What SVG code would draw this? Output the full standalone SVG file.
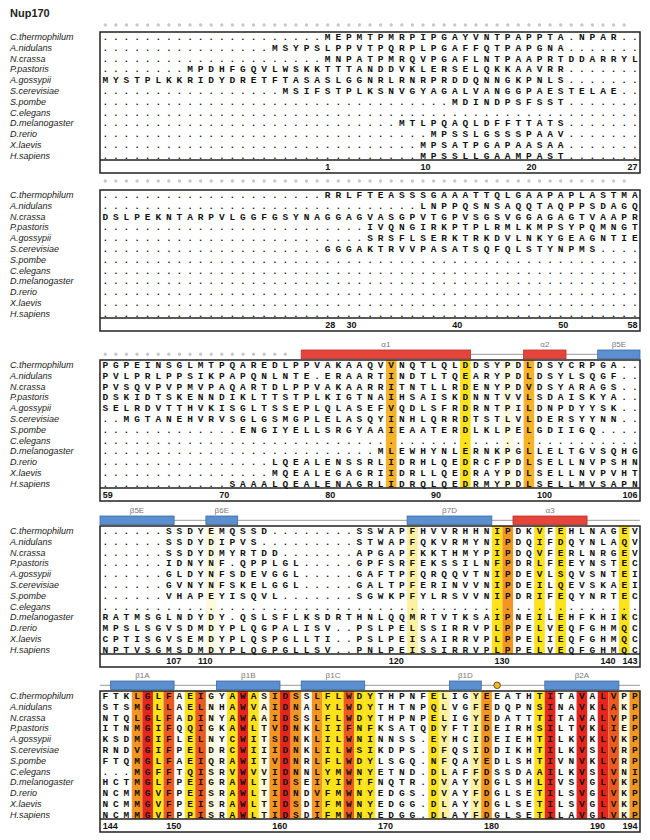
<svg xmlns="http://www.w3.org/2000/svg" width="650" height="840" viewBox="0 0 650 840">
<style>
text{font-family:"Liberation Sans",Arial,sans-serif}
.s{font-family:"Liberation Mono","Courier New",monospace;font-weight:bold;font-size:9.5px;letter-spacing:4.89px;fill:#111}
.n{font-style:italic;font-size:9px;fill:#1a1a1a}
.u{font-family:"Liberation Mono",monospace;font-weight:bold;font-size:9px;fill:#111}
.e{text-anchor:end}
.l{font-size:8px;fill:#777;text-anchor:middle}
.bx{fill:none;stroke:#222;stroke-width:1.5}
.sp{stroke:#222;stroke-width:1.5}
.gd{stroke:#c8c8c8;stroke-width:3.4;stroke-linecap:round;stroke-dasharray:0 10.59;fill:none}
.ln{stroke:#999;stroke-width:1}
.a{fill:#e5453b;stroke:#b8302a;stroke-width:.8}
.b{fill:#5b8fcf;stroke:#3a6aa6;stroke-width:.8}
.r{fill:#e5261f}.ro{fill:#ec5a22}.o{fill:#f39523}.og{fill:#f6b228}.y{fill:#ffe31a}.ly{fill:#fff1a0}.c{fill:#fffadc}
</style>
<rect width="650" height="840" fill="#fff"/>
<text x="10" y="17" font-weight="bold" font-size="11" fill="#222">Nup170</text>

<g id="block1">
<line class="gd" x1="105.3" y1="25" x2="634.8" y2="25"/>
<rect class="bx" x="100" y="32" width="540" height="141"/>
<line class="sp" x1="100" y1="160" x2="640" y2="160"/>
<g class="n">
<text x="10" y="40.2">C.thermophilum</text><text x="10" y="50.96">A.nidulans</text><text x="10" y="61.72">N.crassa</text><text x="10" y="72.48">P.pastoris</text><text x="10" y="83.24">A.gossypii</text><text x="10" y="94">S.cerevisiae</text><text x="10" y="104.76">S.pombe</text><text x="10" y="115.52">C.elegans</text><text x="10" y="126.28">D.melanogaster</text><text x="10" y="137.04">D.rerio</text><text x="10" y="147.8">X.laevis</text><text x="10" y="158.56">H.sapiens</text>
</g>
<text class="s" y="40.2"><tspan x="102.45">.....................</tspan><tspan x="324.84">MEPMTPMRPIPGAYVNTPAPPTA.NPAR..</tspan></text>
<text class="s" y="50.96"><tspan x="102.45">................</tspan><tspan x="271.89">MSYPS</tspan><tspan x="324.84">LPPVTPQRPLPGAFFQTPAPGNA.......</tspan></text>
<text class="s" y="61.72"><tspan x="102.45">.....................</tspan><tspan x="324.84">MNPATPMRQVPGAFLNTPAAPRTDDARRYL</tspan></text>
<text class="s" y="72.48"><tspan x="102.45">........</tspan><tspan x="187.17">MPDHFGQVLWSKK</tspan><tspan x="324.84">TTTANDDVKLERSELQKKAAVRR.......</tspan></text>
<text class="s" y="83.24"><tspan x="102.45">MYSTPLKKRIDYDRETFTASA</tspan><tspan x="324.84">SLGGNRLRNRPRDDQNNGKPNLS.......</tspan></text>
<text class="s" y="94"><tspan x="102.45">.................</tspan><tspan x="282.48">MSIF</tspan><tspan x="324.84">STPLKSNVGYAGALVANGGPAESTELAE..</tspan></text>
<text class="s" y="104.76"><tspan x="102.45">.....................</tspan><tspan x="324.84">............</tspan><tspan x="451.92">MDINDPSFSST.......</tspan></text>
<text class="s" y="115.52"><tspan x="102.45">.....................</tspan><tspan x="324.84">..............................</tspan></text>
<text class="s" y="126.28"><tspan x="102.45">.....................</tspan><tspan x="324.84">.......</tspan><tspan x="398.97">MTLPQAQLDFFTTATS.......</tspan></text>
<text class="s" y="137.04"><tspan x="102.45">.....................</tspan><tspan x="324.84">..........</tspan><tspan x="430.74">MPSSLGSSSPAAV.......</tspan></text>
<text class="s" y="147.8"><tspan x="102.45">.....................</tspan><tspan x="324.84">.........</tspan><tspan x="420.15">MPSATPGAPAASAA.......</tspan></text>
<text class="s" y="158.56"><tspan x="102.45">.....................</tspan><tspan x="324.84">.........</tspan><tspan x="420.15">MPSSLLGAAMPAST.......</tspan></text>
<g class="u"><text x="325.2" y="170">1</text><text x="420.5" y="170">10</text><text x="526.4" y="170">20</text><text class="e" x="637.5" y="170">27</text></g>
</g>

<g id="block2">
<line class="gd" x1="105.3" y1="181" x2="634.8" y2="181"/>
<rect class="bx" x="100" y="190" width="540" height="141"/>
<line class="sp" x1="100" y1="318" x2="640" y2="318"/>
<g class="n">
<text x="10" y="198.2">C.thermophilum</text><text x="10" y="208.96">A.nidulans</text><text x="10" y="219.72">N.crassa</text><text x="10" y="230.48">P.pastoris</text><text x="10" y="241.24">A.gossypii</text><text x="10" y="252">S.cerevisiae</text><text x="10" y="262.76">S.pombe</text><text x="10" y="273.52">C.elegans</text><text x="10" y="284.28">D.melanogaster</text><text x="10" y="295.04">D.rerio</text><text x="10" y="305.8">X.laevis</text><text x="10" y="316.56">H.sapiens</text>
</g>
<text class="s" y="198.2"><tspan x="102.45">.....................</tspan><tspan x="324.84">RRLFTEASSSGAAATTQLGAAPAPLASTMA</tspan></text>
<text class="s" y="208.96"><tspan x="102.45">.....................</tspan><tspan x="324.84">.........</tspan><tspan x="420.15">LNPPQSNSAQQTAQPPSDAGQ</tspan></text>
<text class="s" y="219.72"><tspan x="102.45">DSLPEKNTARPVLGGFGSYNA</tspan><tspan x="324.84">GGAGVASGPVTGPVSGSVGGAGAGTVAAPR</tspan></text>
<text class="s" y="230.48"><tspan x="102.45">.....................</tspan><tspan x="324.84">....</tspan><tspan x="367.2">IVQNGIRKPTPLRMLKMPSYPQMNGT</tspan></text>
<text class="s" y="241.24"><tspan x="102.45">.....................</tspan><tspan x="324.84">....</tspan><tspan x="367.2">SRSFLSERKTRKDVLNKYGEAGNTIE</tspan></text>
<text class="s" y="252"><tspan x="102.45">.....................</tspan><tspan x="324.84">GGGAKTRVVPASATSQFQLSTYNPMS....</tspan></text>
<text class="s" y="262.76"><tspan x="102.45">.....................</tspan><tspan x="324.84">..............................</tspan></text>
<text class="s" y="273.52"><tspan x="102.45">.....................</tspan><tspan x="324.84">..............................</tspan></text>
<text class="s" y="284.28"><tspan x="102.45">.....................</tspan><tspan x="324.84">..............................</tspan></text>
<text class="s" y="295.04"><tspan x="102.45">.....................</tspan><tspan x="324.84">..............................</tspan></text>
<text class="s" y="305.8"><tspan x="102.45">.....................</tspan><tspan x="324.84">..............................</tspan></text>
<text class="s" y="316.56"><tspan x="102.45">.....................</tspan><tspan x="324.84">..............................</tspan></text>
<g class="u"><text x="325.2" y="328">28</text><text x="346.4" y="328">30</text><text x="452.3" y="328">40</text><text x="558.2" y="328">50</text><text class="e" x="637.5" y="328">58</text></g>
</g>

<g id="block3">
<line class="gd" x1="105.3" y1="354.3" x2="295.9" y2="354.3"/>
<line class="ln" x1="470.6" y1="354.3" x2="523.6" y2="354.3"/>
<line class="ln" x1="566" y1="354.3" x2="597.7" y2="354.3"/>
<rect class="a" x="301.2" y="350" width="169.4" height="8.6"/>
<rect class="a" x="523.6" y="350" width="42.4" height="8.6"/>
<rect class="b" x="597.7" y="350" width="42.3" height="8.6"/>
<text class="l" x="385.9" y="347">α1</text><text class="l" x="544.8" y="347">α2</text><text class="l" x="618.9" y="347">β5E</text>
<rect class="og" x="385.93" y="360" width="10.62" height="128"/>
<rect class="y" x="460.06" y="360" width="10.62" height="128"/>
<rect class="c" x="502.42" y="360" width="10.62" height="128"/>
<rect class="og" x="523.6" y="360" width="10.62" height="128"/>
<rect class="bx" x="100" y="360" width="540" height="141"/>
<line class="sp" x1="100" y1="488" x2="640" y2="488"/>
<g class="n">
<text x="10" y="368.2">C.thermophilum</text><text x="10" y="378.96">A.nidulans</text><text x="10" y="389.72">N.crassa</text><text x="10" y="400.48">P.pastoris</text><text x="10" y="411.24">A.gossypii</text><text x="10" y="422">S.cerevisiae</text><text x="10" y="432.76">S.pombe</text><text x="10" y="443.52">C.elegans</text><text x="10" y="454.28">D.melanogaster</text><text x="10" y="465.04">D.rerio</text><text x="10" y="475.8">X.laevis</text><text x="10" y="486.56">H.sapiens</text>
</g>
<text class="s" y="368.2"><tspan x="102.45">PGPEINSGLMTPQAREDLPPV</tspan><tspan x="324.84">AKAAQVVNQTLQLDDSYPDLDSYCRPGA..</tspan></text>
<text class="s" y="378.96"><tspan x="102.45">PVLPRLPPSIKPAPQNLNTE.</tspan><tspan x="324.84">ERAARTINDTLTQEARYPDLDSYLSQGF..</tspan></text>
<text class="s" y="389.72"><tspan x="102.45">PVSQVPVPMVPAQARTDLPPV</tspan><tspan x="324.84">AKAARRITNTLLRDENYPDVDSYARAGS..</tspan></text>
<text class="s" y="400.48"><tspan x="102.45">DSKIDTSKENNDIKLTTSTPL</tspan><tspan x="324.84">KIGTNAIHSAISKDNNTVVLSDAISKYA..</tspan></text>
<text class="s" y="411.24"><tspan x="102.45">SELRDVTTHVKISGLTSSEPL</tspan><tspan x="324.84">QLASEFVQDLSFRDRNTPILDNPDYYSK..</tspan></text>
<text class="s" y="422"><tspan x="102.45">..MGTANEHVRVSGLGSMGPL</tspan><tspan x="324.84">ELASQYINHLQRRDTSTLVLDERSYYNN..</tspan></text>
<text class="s" y="432.76"><tspan x="102.45">.............</tspan><tspan x="240.12">ENGIYELL</tspan><tspan x="324.84">SRGYAAIEAATERDLKLPELGDIIGQ....</tspan></text>
<text class="s" y="443.52"><tspan x="102.45">.....................</tspan><tspan x="324.84">..............................</tspan></text>
<text class="s" y="454.28"><tspan x="102.45">.....................</tspan><tspan x="324.84">.....</tspan><tspan x="377.79">MLEWHYNLERNKPGLLELTGVSQHG</tspan></text>
<text class="s" y="465.04"><tspan x="102.45">................</tspan><tspan x="271.89">LQEAL</tspan><tspan x="324.84">ENSSRLIDRHLQEDRCFPDLSELLNVPSHN</tspan></text>
<text class="s" y="475.8"><tspan x="102.45">................</tspan><tspan x="271.89">MQEAL</tspan><tspan x="324.84">EGAGRIIDRLLQEDRAYPDLSELLNVPVHT</tspan></text>
<text class="s" y="486.56"><tspan x="102.45">............</tspan><tspan x="229.53">SAAALQEAL</tspan><tspan x="324.84">ENAGRLIDRQLQEDRMYPDLSELLMVSAPN</tspan></text>
<g class="u"><text x="102.8" y="498">59</text><text x="219.3" y="498">70</text><text x="325.2" y="498">80</text><text x="431.1" y="498">90</text><text x="537" y="498">100</text><text class="e" x="637.5" y="498">106</text></g>
</g>

<g id="block4">
<line class="ln" x1="174.1" y1="520.3" x2="205.9" y2="520.3"/>
<line class="ln" x1="237.7" y1="520.3" x2="407.1" y2="520.3"/>
<line class="ln" x1="491.8" y1="520.3" x2="513" y2="520.3"/>
<line class="ln" x1="587.1" y1="520.3" x2="640" y2="520.3"/>
<rect class="b" x="100" y="516" width="74.1" height="8.6"/>
<rect class="b" x="205.9" y="516" width="31.8" height="8.6"/>
<rect class="b" x="407.1" y="516" width="84.7" height="8.6"/>
<rect class="a" x="513" y="516" width="74.1" height="8.6"/>
<text class="l" x="137" y="513">β5E</text><text class="l" x="221.8" y="513">β6E</text><text class="l" x="449.5" y="513">β7D</text><text class="l" x="550.1" y="513">α3</text>
<rect class="c" x="205.9" y="526" width="10.62" height="128"/>
<rect class="ly" x="407.11" y="526" width="10.62" height="128"/>
<rect class="y" x="491.83" y="526" width="10.62" height="128"/>
<rect class="o" x="502.42" y="526" width="10.62" height="128"/>
<rect class="y" x="534.19" y="526" width="10.62" height="128"/>
<rect class="y" x="555.37" y="526" width="10.62" height="128"/>
<rect class="y" x="618.91" y="526" width="10.62" height="128"/>
<rect class="bx" x="100" y="526" width="540" height="141"/>
<line class="sp" x1="100" y1="654" x2="640" y2="654"/>
<g class="n">
<text x="10" y="534.2">C.thermophilum</text><text x="10" y="544.96">A.nidulans</text><text x="10" y="555.72">N.crassa</text><text x="10" y="566.48">P.pastoris</text><text x="10" y="577.24">A.gossypii</text><text x="10" y="588">S.cerevisiae</text><text x="10" y="598.76">S.pombe</text><text x="10" y="609.52">C.elegans</text><text x="10" y="620.28">D.melanogaster</text><text x="10" y="631.04">D.rerio</text><text x="10" y="641.8">X.laevis</text><text x="10" y="652.56">H.sapiens</text>
</g>
<text class="s" y="534.2"><tspan x="102.45">......</tspan><tspan x="165.99">SSDYEMQSSD</tspan><tspan x="271.89">........</tspan><tspan x="356.61">SSWAPFHVVRHHNIPDKVFEHLNAGEV</tspan></text>
<text class="s" y="544.96"><tspan x="102.45">......</tspan><tspan x="165.99">SSDYDIPVS</tspan><tspan x="261.3">.........</tspan><tspan x="356.61">STWAPFQKVRMYNIPDQIFDQYNLAQV</tspan></text>
<text class="s" y="555.72"><tspan x="102.45">......</tspan><tspan x="165.99">SSDYDMYRTDD</tspan><tspan x="282.48">.......</tspan><tspan x="356.61">APGAPFKKTHMYPIPDQVFERLNRGEV</tspan></text>
<text class="s" y="566.48"><tspan x="102.45">......</tspan><tspan x="165.99">IDNYNF.QPPLGL</tspan><tspan x="303.66">.....</tspan><tspan x="356.61">GPFSRFEKSSILNFPDRLFEEYNSTEC</tspan></text>
<text class="s" y="577.24"><tspan x="102.45">......</tspan><tspan x="165.99">GLDYNFSDEVGGL</tspan><tspan x="303.66">.....</tspan><tspan x="356.61">GAFTPFQRQQVTNIPDEVLSQVSNTEI</tspan></text>
<text class="s" y="588"><tspan x="102.45">......</tspan><tspan x="165.99">GVNYNFSKELGGL</tspan><tspan x="303.66">.....</tspan><tspan x="356.61">GALTPFERINVVNIPDEILQEVSKAEI</tspan></text>
<text class="s" y="598.76"><tspan x="102.45">......</tspan><tspan x="165.99">VHAPEYISQVL</tspan><tspan x="282.48">.......</tspan><tspan x="356.61">SGWKPFYLRSVVNIPDRIFEQYNRTEC</tspan></text>
<text class="s" y="609.52"><tspan x="102.45">.....................</tspan><tspan x="324.84">..............................</tspan></text>
<text class="s" y="620.28"><tspan x="102.45">RATMSGLNDYDY.QSLSFLKS</tspan><tspan x="324.84">DRTHNLQQMRTVTKSAIPNEILEHFKHIKC</tspan></text>
<text class="s" y="631.04"><tspan x="102.45">MPSLSGVSDMDYPLQGPALIS</tspan><tspan x="324.84">V..PSLPELSSIRRVPLPPELVEQFGHMQC</tspan></text>
<text class="s" y="641.8"><tspan x="102.45">CPTISGVSEMDYPLQSPGLLT</tspan><tspan x="324.84">I..PSLPEISAIRRVPLPPELIEQFGHMQC</tspan></text>
<text class="s" y="652.56"><tspan x="102.45">NPTVSGMSDMDYPLQGPGLLS</tspan><tspan x="324.84">V..PNLPEISSIRRVPLPPELVEQFGHMQC</tspan></text>
<g class="u"><text x="166.3" y="664">107</text><text x="198.1" y="664">110</text><text x="388.7" y="664">120</text><text x="494.6" y="664">130</text><text x="600.5" y="664">140</text><text class="e" x="637.5" y="664">143</text></g>
</g>

<g id="block5">
<line class="ln" x1="100" y1="685.3" x2="640" y2="685.3"/>
<rect class="b" x="110.6" y="681" width="63.5" height="8.6"/>
<rect class="b" x="216.5" y="681" width="63.5" height="8.6"/>
<rect class="b" x="301.2" y="681" width="63.5" height="8.6"/>
<rect class="b" x="449.5" y="681" width="31.8" height="8.6"/>
<circle cx="497.1" cy="685.3" r="3.3" fill="#f5b81f" stroke="#333" stroke-width=".8"/>
<rect class="b" x="544.8" y="681" width="74.1" height="8.6"/>
<text class="l" x="142.4" y="678">β1A</text><text class="l" x="248.3" y="678">β1B</text><text class="l" x="333" y="678">β1C</text><text class="l" x="465.4" y="678">β1D</text><text class="l" x="581.9" y="678">β2A</text>
<g>
<rect class="o" x="131.77" y="691" width="10.62" height="128"/>
<rect class="r" x="142.36" y="691" width="10.62" height="128"/>
<rect class="y" x="152.95" y="691" width="10.62" height="128"/>
<rect class="ro" x="163.54" y="691" width="10.62" height="128"/>
<rect class="y" x="184.72" y="691" width="10.62" height="128"/>
<rect class="ro" x="195.31" y="691" width="10.62" height="128"/>
<rect class="c" x="205.9" y="691" width="10.62" height="128"/>
<rect class="y" x="227.08" y="691" width="10.62" height="128"/>
<rect class="r" x="237.67" y="691" width="10.62" height="128"/>
<rect class="y" x="248.26" y="691" width="10.62" height="128"/>
<rect class="c" x="258.85" y="691" width="10.62" height="128"/>
<rect class="o" x="269.44" y="691" width="10.62" height="128"/>
<rect class="r" x="280.03" y="691" width="10.62" height="128"/>
<rect class="o" x="290.62" y="691" width="10.62" height="128"/>
<rect class="o" x="311.8" y="691" width="10.62" height="128"/>
<rect class="y" x="322.39" y="691" width="10.62" height="128"/>
<rect class="y" x="332.98" y="691" width="10.62" height="128"/>
<rect class="ro" x="343.57" y="691" width="10.62" height="128"/>
<rect class="y" x="354.16" y="691" width="10.62" height="128"/>
<rect class="y" x="364.75" y="691" width="10.62" height="128"/>
<rect class="y" x="428.29" y="691" width="10.62" height="128"/>
<rect class="ly" x="438.88" y="691" width="10.62" height="128"/>
<rect class="ly" x="470.65" y="691" width="10.62" height="128"/>
<rect class="o" x="481.24" y="691" width="10.62" height="128"/>
<rect class="y" x="534.19" y="691" width="10.62" height="128"/>
<rect class="r" x="544.78" y="691" width="10.62" height="128"/>
<rect class="r" x="576.55" y="691" width="10.62" height="128"/>
<rect class="r" x="597.73" y="691" width="10.62" height="128"/>
<rect class="ro" x="608.32" y="691" width="10.62" height="128"/>
<rect class="c" x="618.91" y="691" width="10.62" height="128"/>
<rect class="o" x="629.5" y="691" width="10.5" height="128"/>
</g>
<rect class="bx" x="100" y="691" width="540" height="141"/>
<line class="sp" x1="100" y1="819" x2="640" y2="819"/>
<g class="n">
<text x="10" y="699.2">C.thermophilum</text><text x="10" y="709.96">A.nidulans</text><text x="10" y="720.72">N.crassa</text><text x="10" y="731.48">P.pastoris</text><text x="10" y="742.24">A.gossypii</text><text x="10" y="753">S.cerevisiae</text><text x="10" y="763.76">S.pombe</text><text x="10" y="774.52">C.elegans</text><text x="10" y="785.28">D.melanogaster</text><text x="10" y="796.04">D.rerio</text><text x="10" y="806.8">X.laevis</text><text x="10" y="817.56">H.sapiens</text>
</g>
<text class="s" y="699.2"><tspan x="102.45">FTKLGLFAEIGYAWASIDSSL</tspan><tspan x="324.84">FLWDYTHPNFELIGYEEATHTITAVALVPP</tspan></text>
<text class="s" y="709.96"><tspan x="102.45">STSMGLLAELNHAWVAIDNAL</tspan><tspan x="324.84">YLWDYTHTNPQLVGFEDQPNSINAVKLAKP</tspan></text>
<text class="s" y="720.72"><tspan x="102.45">NTQLGLFADINYAWAAIDSSL</tspan><tspan x="324.84">FLWDYTHPNPELIGYEDATTTITAVALVPP</tspan></text>
<text class="s" y="731.48"><tspan x="102.45">ITNMGIFQQIGKAWLTVDNKL</tspan><tspan x="324.84">IIFNFKSATQDYFTIDEIRHSILTVKLIEP</tspan></text>
<text class="s" y="742.24"><tspan x="102.45">KSDMGIFLELNYCWITSDNKL</tspan><tspan x="324.84">ILWNINNSS.EYHCIDEIEHTILKVKLVKP</tspan></text>
<text class="s" y="753"><tspan x="102.45">RNDVGIFPELDRCWIIIDNKL</tspan><tspan x="324.84">ILWSIKDPS.DFQSIDDIKHTILKVSLVRP</tspan></text>
<text class="s" y="763.76"><tspan x="102.45">FTQMGLFAEIQRAWITVDNRL</tspan><tspan x="324.84">FLWDYLSGQ.NFQAYEDLSHTIVNVKLVRP</tspan></text>
<text class="s" y="774.52"><tspan x="102.45">...MGFFTQISRVWVVIDNNL</tspan><tspan x="324.84">YMWNYETND.DLAFFDSSDAAILKVSLVNI</tspan></text>
<text class="s" y="785.28"><tspan x="102.45">HCTMGLFPEIGRAWLTIDSEI</tspan><tspan x="324.84">YIWTFNQTR.DVAYYDGLSHLIVSVGLVKP</tspan></text>
<text class="s" y="796.04"><tspan x="102.45">NCMMGVFPEISRAWLTIDNDV</tspan><tspan x="324.84">FMWNYEDGS.DVAYFDGLSETILSVGLVKP</tspan></text>
<text class="s" y="806.8"><tspan x="102.45">NCMMGVFPEISRAWLTIDSDI</tspan><tspan x="324.84">FMWNYEDGG.DLAYYDGLSETILSVGLVKP</tspan></text>
<text class="s" y="817.56"><tspan x="102.45">NCMMGVFPPISRAWLTIDSDI</tspan><tspan x="324.84">FMWNYEDGG.DLAYFDGLSETILAVGLVKP</tspan></text>
<g class="u"><text x="102.8" y="829">144</text><text x="166.3" y="829">150</text><text x="272.2" y="829">160</text><text x="378.1" y="829">170</text><text x="484" y="829">180</text><text x="589.9" y="829">190</text><text class="e" x="637.5" y="829">194</text></g>
</g>
</svg>
